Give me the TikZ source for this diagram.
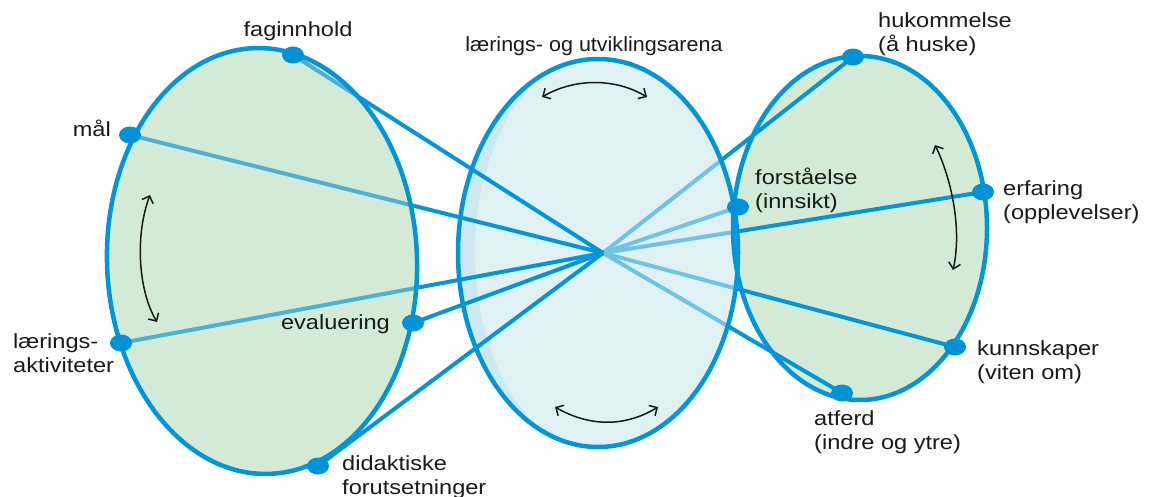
\documentclass[tikz,border=0pt]{standalone}
\usepackage{fontspec}
\setmainfont{Liberation Sans}[FakeStretch=1.15]
\newfontfamily\arenafont{Liberation Sans}[FakeStretch=1.05]
\usetikzlibrary{shapes.geometric,arrows.meta}
\definecolor{lineblue}{RGB}{0,150,215}
\definecolor{dotblue}{RGB}{0,146,214}
\definecolor{leafgreen}{RGB}{211,234,214}
\definecolor{arenacyan}{RGB}{223,241,243}
\definecolor{arenaband}{RGB}{205,232,239}
\definecolor{inkblack}{RGB}{25,25,25}
\pgfdeclarelayer{fillA}
\pgfdeclarelayer{linesA}
\pgfdeclarelayer{fillB}
\pgfdeclarelayer{linesB}
\pgfdeclarelayer{fillC}
\pgfdeclarelayer{rims}
\pgfsetlayers{fillA,linesA,fillB,linesB,fillC,rims,main}
\begin{document}
\begin{tikzpicture}[x=1pt,y=-1pt,
  conn/.style={draw=lineblue,line width=4pt},
  rim/.style={draw=lineblue,line width=4.5pt},
  dot/.style={ellipse,fill=dotblue,minimum width=22pt,minimum height=17pt,inner sep=0pt},
  lbl/.style={inner sep=0pt,align=left,text=inkblack,font=\fontsize{20.5}{24}\selectfont},
  turn/.style={draw=inkblack,line width=1.5pt,{Straight Barb[length=6pt,width=12pt]}-{Straight Barb[length=6pt,width=12pt]}},
  leftegg/.style={rotate around={2:(262,261)}}]
\useasboundingbox (0,0) rectangle (1153,497);

% dots
\node[dot] (fag) at (293,55) {};
\node[dot] (mal) at (130,135) {};
\node[dot] (laer) at (121,343) {};
\node[dot] (eval) at (413,323) {};
\node[dot] (did) at (318,466) {};
\node[dot] (huk) at (853,57) {};
\node[dot] (forst) at (738,207) {};
\node[dot] (erf) at (983,192) {};
\node[dot] (kunn) at (955,347) {};
\node[dot] (atf) at (842,393) {};
\coordinate (C) at (603,253);

% base fills
\begin{pgfonlayer}{fillA}
  \fill[leafgreen,leftegg] (262,261) ellipse [x radius=155,y radius=213];
  \fill[leafgreen] (860,228) ellipse [x radius=127,y radius=172];
  \fill[arenaband] (598,253) ellipse [x radius=140,y radius=194];
  \begin{scope}
    \clip (598,253) ellipse [x radius=140,y radius=194];
    \fill[arenacyan] (608,253) ellipse [x radius=133,y radius=205];
  \end{scope}
\end{pgfonlayer}

% right-hand connectors
\begin{pgfonlayer}{linesA}
  \draw[conn] (C) -- (huk.center);
  \draw[conn] (C) -- (forst.center);
  \draw[conn] (C) -- (erf.center);
  \draw[conn] (C) -- (kunn.center);
  \draw[conn] (C) -- (atf.center);
\end{pgfonlayer}

\begin{pgfonlayer}{fillB}
  \begin{scope}
    \clip (598,253) ellipse [x radius=140,y radius=194];
    \fill[arenacyan,opacity=0.5] (608,253) ellipse [x radius=133,y radius=205];
  \end{scope}
\end{pgfonlayer}

% left-hand connectors
\begin{pgfonlayer}{linesB}
  \draw[conn] (C) -- (fag.center);
  \draw[conn] (C) -- (mal.center);
  \draw[conn] (C) -- (laer.center);
  \draw[conn] (C) -- (eval.center);
  \draw[conn] (C) -- (did.center);
\end{pgfonlayer}

\begin{pgfonlayer}{fillC}
  \fill[leafgreen,opacity=0.35,leftegg] (262,261) ellipse [x radius=155,y radius=213];
\end{pgfonlayer}

\begin{pgfonlayer}{rims}
  \draw[rim,leftegg] (262,261) ellipse [x radius=155,y radius=213];
  \draw[rim] (598,253) ellipse [x radius=140,y radius=194];
  \draw[rim] (860,228) ellipse [x radius=127,y radius=172];
  % turning arrows
  \draw[turn] (150,195) .. controls (135,235) and (138,290) .. (157,322);
  \draw[turn] (542,97) .. controls (575,78) and (615,78) .. (647,97);
  \draw[turn] (555,407) .. controls (590,427) and (625,427) .. (658,407);
  \draw[turn] (935,145) .. controls (952,180) and (962,230) .. (953,270);
\end{pgfonlayer}

% labels (multi-line nodes: base anchor = last line's baseline)
\node[lbl,anchor=base] (tfag) at (298,37) {faginnhold};
\node[lbl,anchor=base east] (tmal) at (111,137) {mål};
\node[lbl,anchor=base west] (tlaer) at (13,372) {lærings-\\aktiviteter};
\node[lbl,anchor=base east] (teval) at (390,329) {evaluering};
\node[lbl,anchor=base west] (tdid) at (342,494) {didaktiske\\forutsetninger};
\node[lbl,anchor=base,font=\arenafont\fontsize{20.5}{24}\selectfont] (tarena) at (594,52) {lærings- og utviklingsarena};
\node[lbl,anchor=base west] (thuk) at (878,52) {hukommelse\\(å huske)};
\node[lbl,anchor=base west] (tforst) at (755,208) {forståelse\\(innsikt)};
\node[lbl,anchor=base west] (terf) at (1003,219) {erfaring\\(opplevelser)};
\node[lbl,anchor=base west] (tkunn) at (977,379) {kunnskaper\\(viten om)};
\node[lbl,anchor=base west] (tatf) at (814,449) {atferd\\(indre og ytre)};
\end{tikzpicture}
\end{document}
